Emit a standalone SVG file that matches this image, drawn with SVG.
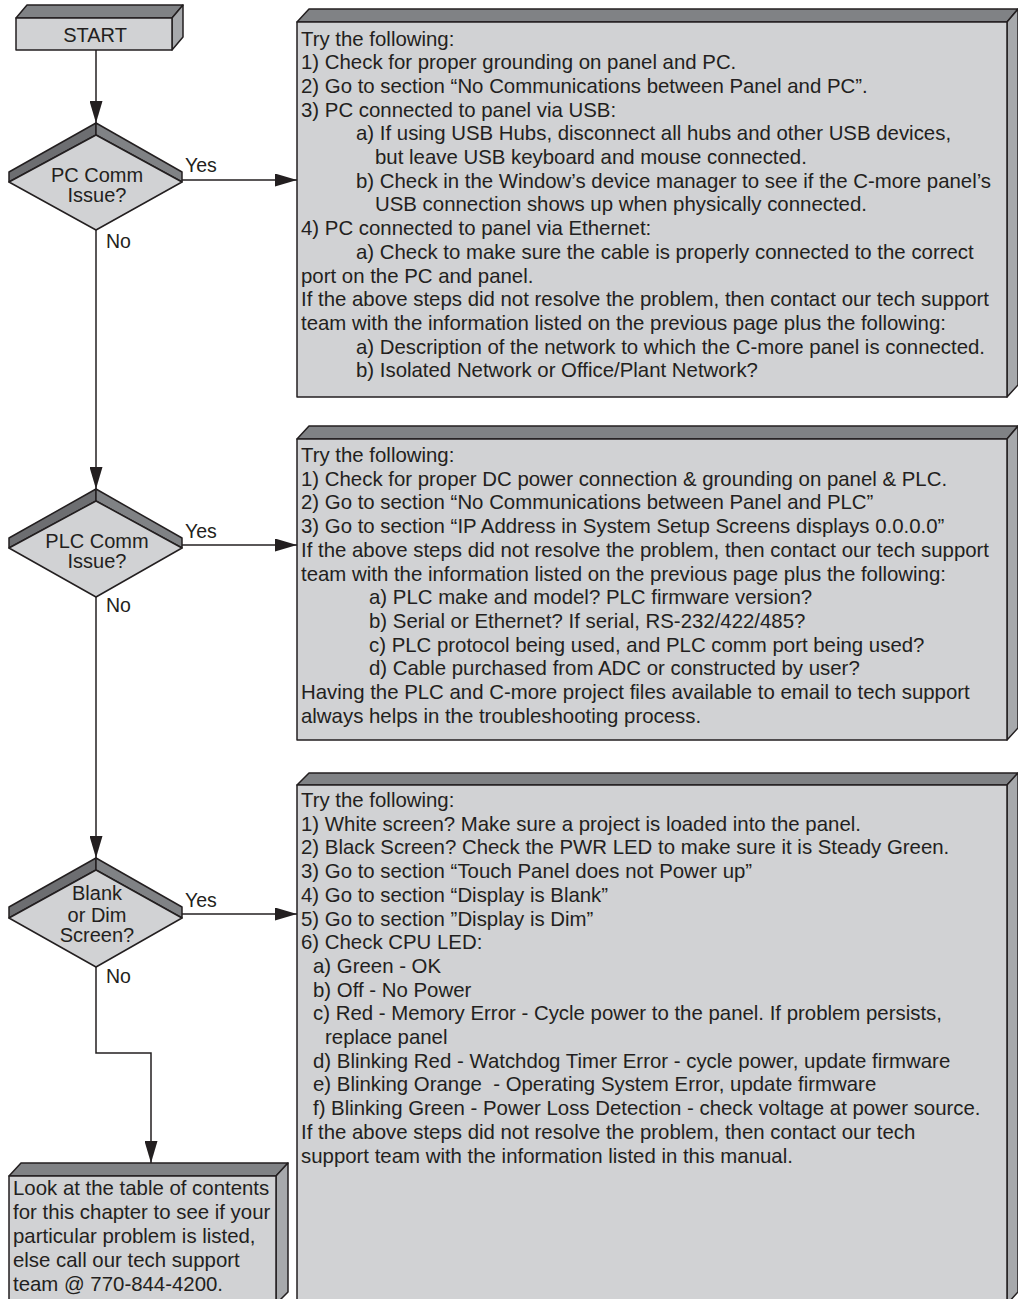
<svg xmlns="http://www.w3.org/2000/svg" width="1018" height="1299" viewBox="0 0 1018 1299">
<defs>
<style>
.front{fill:#d1d2d4;stroke:#231f20;stroke-width:1.5;stroke-linejoin:round}
.top{fill:#808285;stroke:#231f20;stroke-width:1.5;stroke-linejoin:round}
.side{fill:#a7a9ac;stroke:#231f20;stroke-width:1.5;stroke-linejoin:round}
.rimL{fill:#6d6e71;stroke:#231f20;stroke-width:1.5;stroke-linejoin:round}
.rimR{fill:#808285;stroke:#231f20;stroke-width:1.5;stroke-linejoin:round}
text{font-family:"Liberation Sans",Arial,Helvetica,sans-serif;fill:#231f20}
.body{font-size:20.4px;white-space:pre}
.dt{font-size:20px;text-anchor:middle}
.lbl{font-size:19.5px}
.conn{fill:none;stroke:#231f20;stroke-width:1.5}
</style>
<marker id="arr" markerWidth="22" markerHeight="13" refX="22" refY="6.5" orient="auto" markerUnits="userSpaceOnUse">
<path d="M0,0 L22,6.5 L0,13 z" fill="#231f20"/>
</marker>
</defs>
<rect width="1018" height="1299" fill="#ffffff"/>

<g id="connectors">
<line class="conn" x1="96" y1="50" x2="96" y2="123" marker-end="url(#arr)"/>
<line class="conn" x1="96" y1="230" x2="96" y2="489" marker-end="url(#arr)"/>
<line class="conn" x1="96" y1="597" x2="96" y2="858" marker-end="url(#arr)"/>
<polyline class="conn" points="96,967 96,1053 151,1053 151,1163" marker-end="url(#arr)"/>
<line class="conn" x1="182" y1="180" x2="297" y2="180" marker-end="url(#arr)"/>
<line class="conn" x1="182" y1="545" x2="297" y2="545" marker-end="url(#arr)"/>
<line class="conn" x1="182" y1="914" x2="297" y2="914" marker-end="url(#arr)"/>
<text class="lbl" x="185" y="172">Yes</text>
<text class="lbl" x="106" y="248">No</text>
<text class="lbl" x="185" y="538">Yes</text>
<text class="lbl" x="106" y="612">No</text>
<text class="lbl" x="185" y="907">Yes</text>
<text class="lbl" x="106" y="983">No</text>
</g>

<g id="start">
<polygon class="top" points="16,18 27,5 183,5 172,18"/>
<polygon class="side" points="172,18 183,5 183,37 172,50"/>
<rect class="front" x="16" y="18" width="156" height="32"/>
<text class="dt" x="95" y="41.5">START</text>
</g>

<g id="pc-comm">
<polygon class="rimL" points="9,172 96,123 96,135 9,182"/>
<polygon class="rimR" points="96,123 182,172 182,182 96,135"/>
<polygon class="front" points="96,135 182,182 96,230 9,182"/>
<text class="dt" x="97" y="181.5">PC Comm</text>
<text class="dt" x="97" y="201.5">Issue?</text>
</g>

<g id="plc-comm">
<polygon class="rimL" points="9,538 96,489 96,501 9,548"/>
<polygon class="rimR" points="96,489 182,538 182,548 96,501"/>
<polygon class="front" points="96,501 182,548 96,597 9,548"/>
<text class="dt" x="97" y="548">PLC Comm</text>
<text class="dt" x="97" y="568">Issue?</text>
</g>

<g id="blank-screen">
<polygon class="rimL" points="9,907 96,858 96,870 9,918"/>
<polygon class="rimR" points="96,858 182,907 182,918 96,870"/>
<polygon class="front" points="96,870 182,918 96,967 9,918"/>
<text class="dt" x="97" y="900">Blank</text>
<text class="dt" x="97" y="921.5">or Dim</text>
<text class="dt" x="97" y="942">Screen?</text>
</g>

<g id="pc-help">
<polygon class="top" points="297,22 309,9 1018,9 1007,22"/>
<polygon class="side" points="1007,22 1018,9 1018,385 1007,397"/>
<rect class="front" x="297" y="22" width="710" height="375"/>
<text class="body">
<tspan x="301" y="45.5">Try the following:</tspan>
<tspan x="301" y="69.2">1) Check for proper grounding on panel and PC.</tspan>
<tspan x="301" y="92.9">2) Go to section “No Communications between Panel and PC”.</tspan>
<tspan x="301" y="116.6">3) PC connected to panel via USB:</tspan>
<tspan x="356" y="140.3">a) If using USB Hubs, disconnect all hubs and other USB devices,</tspan>
<tspan x="375" y="164">but leave USB keyboard and mouse connected.</tspan>
<tspan x="356" y="187.7">b) Check in the Window’s device manager to see if the C-more panel’s</tspan>
<tspan x="375" y="211.4">USB connection shows up when physically connected.</tspan>
<tspan x="301" y="235.1">4) PC connected to panel via Ethernet:</tspan>
<tspan x="356" y="258.8">a) Check to make sure the cable is properly connected to the correct</tspan>
<tspan x="301" y="282.5">port on the PC and panel.</tspan>
<tspan x="301" y="306.2">If the above steps did not resolve the problem, then contact our tech support</tspan>
<tspan x="301" y="329.9">team with the information listed on the previous page plus the following:</tspan>
<tspan x="356" y="353.6">a) Description of the network to which the C-more panel is connected.</tspan>
<tspan x="356" y="377.3">b) Isolated Network or Office/Plant Network?</tspan>
</text>
</g>

<g id="plc-help">
<polygon class="top" points="297,439 309,426 1018,426 1007,439"/>
<polygon class="side" points="1007,439 1018,426 1018,728 1007,740"/>
<rect class="front" x="297" y="439" width="710" height="301"/>
<text class="body">
<tspan x="301" y="462">Try the following:</tspan>
<tspan x="301" y="485.7">1) Check for proper DC power connection &amp; grounding on panel &amp; PLC.</tspan>
<tspan x="301" y="509.4">2) Go to section “No Communications between Panel and PLC”</tspan>
<tspan x="301" y="533.1">3) Go to section “IP Address in System Setup Screens displays 0.0.0.0”</tspan>
<tspan x="301" y="556.8">If the above steps did not resolve the problem, then contact our tech support</tspan>
<tspan x="301" y="580.5">team with the information listed on the previous page plus the following:</tspan>
<tspan x="369" y="604.2">a) PLC make and model? PLC firmware version?</tspan>
<tspan x="369" y="627.9">b) Serial or Ethernet? If serial, RS-232/422/485?</tspan>
<tspan x="369" y="651.6">c) PLC protocol being used, and PLC comm port being used?</tspan>
<tspan x="369" y="675.3">d) Cable purchased from ADC or constructed by user?</tspan>
<tspan x="301" y="699">Having the PLC and C-more project files available to email to tech support</tspan>
<tspan x="301" y="722.7">always helps in the troubleshooting process.</tspan>
</text>
</g>

<g id="screen-help">
<polygon class="top" points="297,785 309,773 1018,773 1007,785"/>
<polygon class="side" points="1007,785 1018,773 1018,1292 1007,1304"/>
<rect class="front" x="297" y="785" width="710" height="519"/>
<text class="body">
<tspan x="301" y="807">Try the following:</tspan>
<tspan x="301" y="830.7">1) White screen? Make sure a project is loaded into the panel.</tspan>
<tspan x="301" y="854.4">2) Black Screen? Check the PWR LED to make sure it is Steady Green.</tspan>
<tspan x="301" y="878.1">3) Go to section “Touch Panel does not Power up”</tspan>
<tspan x="301" y="901.8">4) Go to section “Display is Blank”</tspan>
<tspan x="301" y="925.5">5) Go to section ”Display is Dim”</tspan>
<tspan x="301" y="949.2">6) Check CPU LED:</tspan>
<tspan x="313" y="972.9">a) Green - OK</tspan>
<tspan x="313" y="996.6">b) Off - No Power</tspan>
<tspan x="313" y="1020.3">c) Red - Memory Error - Cycle power to the panel. If problem persists,</tspan>
<tspan x="325" y="1044">replace panel</tspan>
<tspan x="313" y="1067.7">d) Blinking Red - Watchdog Timer Error - cycle power, update firmware</tspan>
<tspan x="313" y="1091.4">e) Blinking Orange  - Operating System Error, update firmware</tspan>
<tspan x="313" y="1115.1">f) Blinking Green - Power Loss Detection - check voltage at power source.</tspan>
<tspan x="301" y="1138.8">If the above steps did not resolve the problem, then contact our tech</tspan>
<tspan x="301" y="1162.5">support team with the information listed in this manual.</tspan>
</text>
</g>

<g id="other-help">
<polygon class="top" points="9,1176 21,1163 288,1163 276,1176"/>
<polygon class="side" points="276,1176 288,1163 288,1292 276,1304"/>
<rect class="front" x="9" y="1176" width="267" height="128"/>
<text class="body">
<tspan x="13" y="1195">Look at the table of contents</tspan>
<tspan x="13" y="1219">for this chapter to see if your</tspan>
<tspan x="13" y="1242.5">particular problem is listed,</tspan>
<tspan x="13" y="1266.5">else call our tech support</tspan>
<tspan x="13" y="1290.5">team @ 770-844-4200.</tspan>
</text>
</g>
</svg>
